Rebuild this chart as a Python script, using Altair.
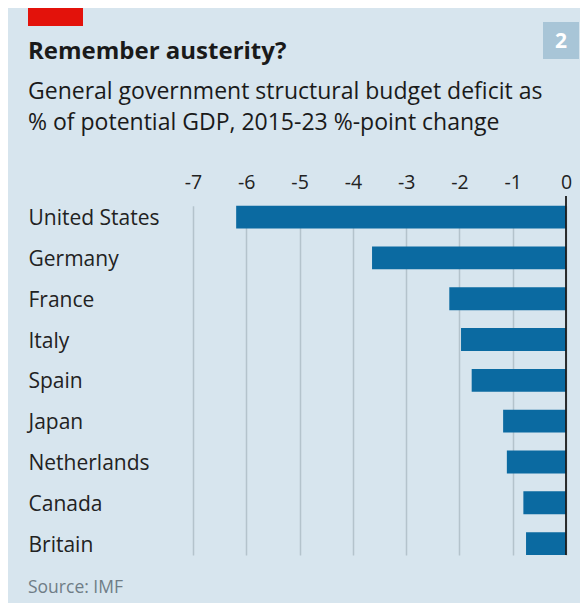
import altair as alt
import pandas as pd

countries = ["United States", "Germany", "France", "Italy", "Spain",
             "Japan", "Netherlands", "Canada", "Britain"]
change = [-6.19, -3.64, -2.19, -1.97, -1.77, -1.18, -1.11, -0.80, -0.75]
x_ticks = [-7, -6, -5, -4, -3, -2, -1, 0]

title_text = "Remember austerity?"
subtitle_lines = ["General government structural budget deficit as",
                  "% of potential GDP, 2015-23 %-point change"]
source_text = "Source: IMF"
chart_number = "2"

FONT = "Open Sans"
BG = "#d7e5ee"
BAR = "#0b6aa1"

df = pd.DataFrame({"country": countries, "change": change})
one = alt.Data(values=[{"k": 1}])

bars = alt.Chart(df).mark_bar(color=BAR).encode(
    x=alt.X("change:Q",
            scale=alt.Scale(domain=[-7, 0], nice=False),
            axis=alt.Axis(orient="top", values=x_ticks, grid=True,
                          gridColor="#b4c3cc", gridWidth=1.5, domain=False,
                          ticks=False, labelPadding=4, labelFontSize=19.5,
                          labelFlush=False,
                          labelColor="#222222", labelFont=FONT, title=None,
                          labelExpr="'' + datum.value")),
    y=alt.Y("country:N", sort=countries,
            scale=alt.Scale(range=[9.7, 359], paddingInner=0.44, paddingOuter=0),
            axis=alt.Axis(labelAlign="left", labelPadding=165, ticks=False,
                          domain=False, labelFontSize=21, labelFont=FONT,
                          labelOffset=2,
                          labelColor="#222222", title=None)),
)

zero = alt.Chart(pd.DataFrame({"z": [0]})).mark_rule(
    color="#1a1a1a", strokeWidth=1.8).encode(
    x="z:Q", y=alt.value(0), y2=alt.value(359))

red = alt.Chart(one).mark_rect(color="#e3120b").encode(
    x=alt.value(-165), x2=alt.value(-110), y=alt.value(-188), y2=alt.value(-170))

box = alt.Chart(one).mark_rect(color="#a8c5d7").encode(
    x=alt.value(350), x2=alt.value(386), y=alt.value(-174), y2=alt.value(-137))

num = alt.Chart(one).mark_text(text=chart_number, font=FONT, fontSize=21,
                               fontWeight="bold", color="white",
                               align="center", baseline="alphabetic").encode(
    x=alt.value(368), y=alt.value(-148))

title = alt.Chart(one).mark_text(text=title_text, font=FONT, fontSize=24,
                                 fontWeight="bold", color="#1a1a1a",
                                 align="left", baseline="alphabetic").encode(
    x=alt.value(-165), y=alt.value(-137))

subtitle = alt.Chart(one).mark_text(text=subtitle_lines, font=FONT, fontSize=23,
                                    color="#1a1a1a", align="left",
                                    baseline="alphabetic", lineHeight=31).encode(
    x=alt.value(-165), y=alt.value(-97))

source = alt.Chart(one).mark_text(text=source_text, font=FONT, fontSize=17.5,
                                  color="#6f7d86", align="left",
                                  baseline="alphabetic").encode(
    x=alt.value(-165), y=alt.value(397))

chart = alt.layer(bars, zero, red, box, num, title, subtitle, source).properties(
    width=373, height=359,
    autosize=alt.AutoSizeParams(type="none"),
    padding={"left": 185, "top": 188, "right": 14, "bottom": 48},
    background=BG,
).configure_view(stroke=None)

chart.save("out.html", embed_options={"renderer": "svg", "actions": False})
